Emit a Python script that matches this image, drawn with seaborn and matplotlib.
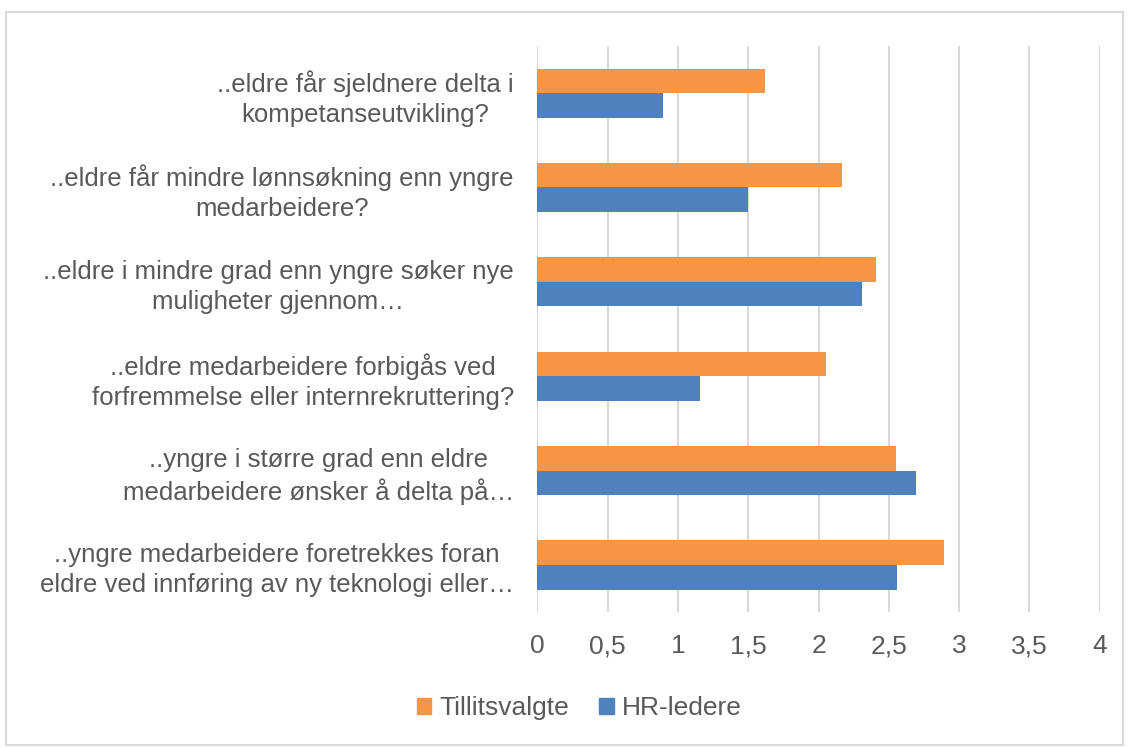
import numpy as np
import pandas as pd
import matplotlib.pyplot as plt
import matplotlib.patches as mpatches
import seaborn as sns

questions = [
    "..eldre får sjeldnere delta i\nkompetanseutvikling?",
    "..eldre får mindre lønnsøkning enn yngre\nmedarbeidere?",
    "..eldre i mindre grad enn yngre søker nye\nmuligheter gjennom…",
    "..eldre medarbeidere forbigås ved\nforfremmelse eller internrekruttering?",
    "..yngre i større grad enn eldre\nmedarbeidere ønsker å delta på…",
    "..yngre medarbeidere foretrekkes foran\neldre ved innføring av ny teknologi eller…",
]
tillitsvalgte = [1.62, 2.17, 2.41, 2.05, 2.55, 2.89]
hr_ledere = [0.89, 1.50, 2.31, 1.16, 2.69, 2.56]
series = ["Tillitsvalgte", "HR-ledere"]
colors = ["#F79646", "#4F81BD"]
xticks = [0, 0.5, 1, 1.5, 2, 2.5, 3, 3.5, 4]

df = pd.DataFrame({
    "spm": questions * 2,
    "gruppe": [series[0]] * len(questions) + [series[1]] * len(questions),
    "snitt": tillitsvalgte + hr_ledere,
})

sns.set_theme(style="white")
plt.rcParams["font.family"] = ["Liberation Sans", "DejaVu Sans"]
txt = "#595959"

fig = plt.figure(figsize=(11.29, 7.47), dpi=100)
ax = fig.add_axes([0.476, 0.1805, 0.498, 0.758])

sns.barplot(data=df, x="snitt", y="spm", hue="gruppe", hue_order=series,
            palette=colors, orient="h", width=0.52, gap=0, saturation=1,
            edgecolor="none", ax=ax, legend=False)

ax.set_xlim(0, 4)
ax.set_xticks(xticks)
ax.set_xticklabels([str(t).replace(".", ",").replace(",0", "") for t in xticks])
ax.xaxis.grid(True, color="#d9d9d9", linewidth=1.5)
ax.set_axisbelow(True)
for s in ax.spines.values():
    s.set_visible(False)
ax.set_xlabel("")
ax.set_ylabel("")
ax.tick_params(axis="x", length=0, pad=16, labelsize=19, labelcolor=txt)
ax.tick_params(axis="y", length=0, pad=17, labelsize=18.5, labelcolor=txt)
for lab in ax.get_yticklabels():
    lab.set_linespacing(1.3)
    lab.set_horizontalalignment("right")
    lab.set_multialignment("center")

handles = [mpatches.Patch(color=c, label=s) for c, s in zip(colors, series)]
fig.legend(handles=handles, loc="center", bbox_to_anchor=(0.513, 0.052), ncol=2,
           frameon=False, fontsize=19, labelcolor=txt, handlelength=0.55,
           handleheight=0.55, handletextpad=0.3, columnspacing=1.15)

fig.patches.append(mpatches.Rectangle((6 / 1129, 2 / 747), 1117 / 1129, 733 / 747,
                                      transform=fig.transFigure, fill=False,
                                      edgecolor="#d9d9d9", linewidth=1.5))

fig.savefig("out.png", dpi=100)
